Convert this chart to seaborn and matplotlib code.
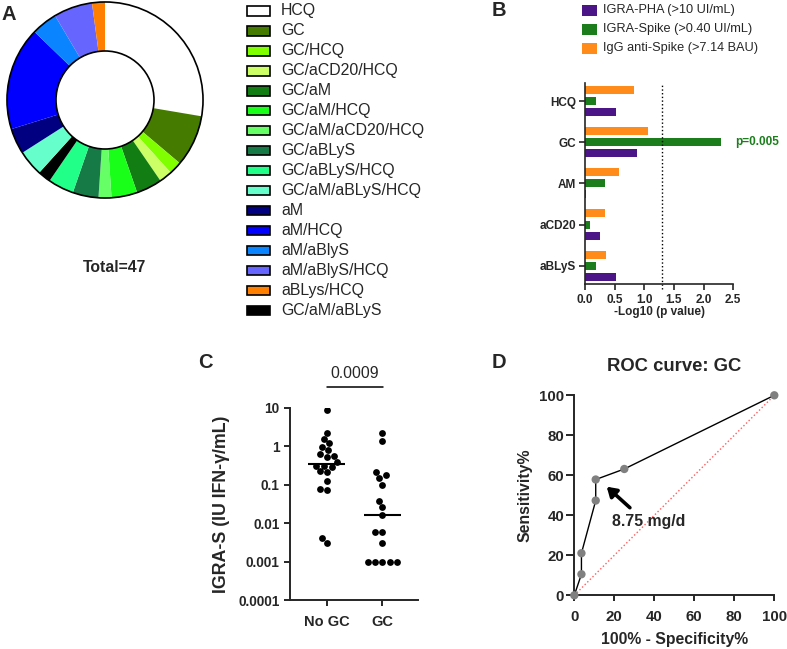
import numpy as np
import pandas as pd
import matplotlib
matplotlib.use("Agg")
import matplotlib.pyplot as plt
import seaborn as sns
from matplotlib.patches import Rectangle, Circle
from matplotlib.ticker import NullLocator

# ---------------- data ----------------
# Panel A
regimens = ['HCQ', 'GC', 'GC/HCQ', 'GC/aCD20/HCQ', 'GC/aM', 'GC/aM/HCQ',
            'GC/aM/aCD20/HCQ', 'GC/aBLyS', 'GC/aBLyS/HCQ', 'GC/aM/aBLyS/HCQ',
            'aM', 'aM/HCQ', 'aM/aBlyS', 'aM/aBlyS/HCQ', 'aBLys/HCQ', 'GC/aM/aBLyS']
regimen_colors = ['#FFFFFF', '#457C00', '#80FF00', '#CCFF66', '#127D12', '#1AFF1A',
                  '#66FF66', '#167A46', '#22FF88', '#66FFCC',
                  '#000080', '#0000FF', '#0A84FF', '#6666FF', '#FF8000', '#000000']
pie_order = ['HCQ', 'GC', 'GC/HCQ', 'GC/aCD20/HCQ', 'GC/aM', 'GC/aM/HCQ',
             'GC/aM/aCD20/HCQ', 'GC/aBLyS', 'GC/aBLyS/HCQ', 'GC/aM/aBLyS',
             'GC/aM/aBLyS/HCQ', 'aM', 'aM/HCQ', 'aM/aBlyS', 'aM/aBlyS/HCQ', 'aBLys/HCQ']
pie_counts = [13, 4, 1, 1, 2, 2, 1, 2, 2, 1, 2, 2, 8, 2, 3, 1]

# Panel B
drugs = ['HCQ', 'GC', 'AM', 'aCD20', 'aBLyS']
igra_pha = [0.52, 0.88, 0.02, 0.25, 0.52]
igra_spike = [0.18, 2.30, 0.33, 0.08, 0.18]
igg_spike = [0.83, 1.06, 0.57, 0.34, 0.36]
measures = ['IGRA-PHA (>10 UI/mL)', 'IGRA-Spike (>0.40 UI/mL)', 'IgG anti-Spike (>7.14 BAU)']
measure_colors = ['#4B1487', '#1B7D1B', '#FF8C1A']
p_threshold = 0.05

# Panel C
no_gc = [8.7, 2.15, 1.5, 1.18, 0.93, 0.79, 0.61, 0.55, 0.53, 0.38, 0.31, 0.31,
         0.29, 0.22, 0.215, 0.124, 0.075, 0.072, 0.004, 0.003]
gc = [2.15, 1.38, 0.21, 0.178, 0.145, 0.10, 0.037, 0.0255, 0.016, 0.0059, 0.0059,
      0.003, 0.001, 0.001, 0.001, 0.001, 0.001]
groups = ['No GC', 'GC']
c_ticks = [0.0001, 0.001, 0.01, 0.1, 1, 10]
c_ticklabels = ['0.0001', '0.001', '0.01', '0.1', '1', '10']

# Panel D
fpr = [0, 3.57, 3.57, 10.71, 10.71, 25.0, 100]
tpr = [0, 10.53, 21.05, 47.37, 57.89, 63.16, 100]
chance = [0, 100]

# ---------------- style ----------------
sns.set_style("ticks")
plt.rcParams['font.family'] = ['Liberation Sans', 'DejaVu Sans']
plt.rcParams['axes.linewidth'] = 1.4

W, H = 787, 649
fig = plt.figure(figsize=(W / 100, H / 100), dpi=100)


def add_ax(l, t, r, b):
    return fig.add_axes([l / W, 1 - b / H, (r - l) / W, (b - t) / H])


def bold_ticks(ax):
    for lbl in ax.get_xticklabels() + ax.get_yticklabels():
        lbl.set_fontweight('bold')


# ---------------- Panel A: donut ----------------
axA = add_ax(6, 1, 204, 199)
cmap = dict(zip(regimens, regimen_colors))
axA.pie(pie_counts, colors=[cmap[k] for k in pie_order], startangle=90,
        counterclock=False, wedgeprops=dict(width=0.5, linewidth=0))
axA.add_patch(Circle((0, 0), 1.0, fill=False, ec='black', lw=1.2))
axA.add_patch(Circle((0, 0), 0.5, fill=False, ec='black', lw=1.2))
axA.set_xlim(-1.01, 1.01)
axA.set_ylim(-1.01, 1.01)
axA.set_aspect('equal')
axA.axis('off')

# ---------------- Panel B: bars ----------------
axB = add_ax(585, 82.7, 733.3, 284)
dfB = pd.DataFrame({
    'drug': drugs * 3,
    'value': igra_pha + igra_spike + igg_spike,
    'measure': [measures[0]] * 5 + [measures[1]] * 5 + [measures[2]] * 5,
})
pal = dict(zip(measures, measure_colors))
sns.barplot(data=dfB, y='drug', x='value', hue='measure', order=drugs,
            hue_order=[measures[2], measures[1], measures[0]], palette=pal,
            orient='h', width=0.81, gap=0.28, errorbar=None, linewidth=0,
            saturation=1, legend=False, ax=axB)
axB.set_xlim(0, 2.5)
axB.set_ylim(4.445, -0.445)
axB.set_xticks([0, 0.5, 1.0, 1.5, 2.0, 2.5])
axB.set_xticklabels(['0.0', '0.5', '1.0', '1.5', '2.0', '2.5'])
axB.axvline(-np.log10(p_threshold), ymin=-0.025, ymax=1, color='black', ls=':',
            lw=1, clip_on=False)
axB.tick_params(axis='x', length=4, width=1.2, labelsize=8.5, pad=3.2)
axB.tick_params(axis='y', length=4, width=1.2, labelsize=8.5, pad=2.4)
axB.set_ylabel('')
axB.set_xlabel('-Log10 (p value)', fontsize=8.5, fontweight='bold')
axB.xaxis.set_label_coords(0.5, -0.107)
axB.xaxis.label.set_va('top')
for s in ['left', 'bottom']:
    axB.spines[s].set_linewidth(1.2)
sns.despine(ax=axB)
bold_ticks(axB)
axB.text(2.53, 1, 'p=0.005', color=measure_colors[1], fontsize=8.5,
         fontweight='bold', va='center', ha='left', clip_on=False)
axB.set_facecolor('none')

# ---------------- Panel C: dot plot ----------------
axC = add_ax(290, 407.7, 418, 600)
dfC = pd.DataFrame({'group': ['No GC'] * len(no_gc) + ['GC'] * len(gc),
                    'value': no_gc + gc})
axC.set_yscale('log')
sns.swarmplot(data=dfC, x='group', y='value', order=groups, color='black',
              size=4.9, log_scale=True, ax=axC)
for i, g in enumerate(groups):
    med = np.median(dfC.loc[dfC.group == g, 'value'])
    axC.hlines(med, i - 0.33, i + 0.33, color='black', lw=1.5, zorder=4)
axC.set_ylim(0.0001, 10)
axC.set_xlim(-0.66, 1.64)
axC.set_yticks(c_ticks)
axC.set_yticklabels(c_ticklabels)
axC.yaxis.set_minor_locator(NullLocator())
axC.tick_params(axis='y', length=4.5, width=1.4, labelsize=9.8, pad=3)
axC.tick_params(axis='x', length=4.5, width=1.4, labelsize=10.5, pad=6.3)
axC.set_xlabel('')
axC.set_ylabel('IGRA-S (IU IFN-γ/mL)', fontsize=12.8, fontweight='bold')
axC.yaxis.set_label_coords(-0.472, 0.498)
sns.despine(ax=axC)
bold_ticks(axC)
axC.plot([0, 1.02], [34.5, 34.5], color='black', lw=1.1, clip_on=False)
axC.text(0.5, 58, '0.0009', ha='center', va='baseline', fontsize=11.3, clip_on=False)
axC.set_facecolor('none')

# ---------------- Panel D: ROC ----------------
axD = add_ax(574.3, 395.3, 774.3, 595.3)
axD.plot(chance, chance, color='#FF5C5C', ls=':', lw=1)
sns.lineplot(x=fpr, y=tpr, sort=False, estimator=None, color='black', lw=1, ax=axD)
sns.scatterplot(x=fpr, y=tpr, color='#808080', s=36, edgecolor='none', zorder=4,
                clip_on=False, ax=axD)
axD.set_xlim(0, 100)
axD.set_ylim(0, 100)
axD.set_xticks(range(0, 101, 20))
axD.set_yticks(range(0, 101, 20))
axD.tick_params(axis='x', length=4.3, width=1.4, labelsize=10.8, pad=6.0)
axD.tick_params(axis='y', length=5.8, width=1.4, labelsize=10.8, pad=1.5)
axD.set_xlabel('100% - Specificity%', fontsize=11.3, fontweight='bold')
axD.xaxis.set_label_coords(0.5, -0.183)
axD.xaxis.label.set_va('top')
axD.set_ylabel('Sensitivity%', fontsize=11.4, fontweight='bold')
axD.yaxis.set_label_coords(-0.2085, 0.5)
axD.set_title('ROC curve: GC', fontsize=13.3, fontweight='bold', pad=17.5)
sns.despine(ax=axD)
bold_ticks(axD)
axD.annotate('', xy=(16.2, 54.3), xytext=(27.8, 43.8),
             arrowprops=dict(arrowstyle='-|>,head_length=0.55,head_width=0.35',
                             color='black', lw=2.6, shrinkA=0, shrinkB=0))
axD.text(18.7, 36.8, '8.75 mg/d', fontsize=11.4, fontweight='bold', va='center', ha='left')
axD.set_facecolor('none')

# ---------------- overlay: legends, panel letters ----------------
ov = fig.add_axes([0, 0, 1, 1], zorder=10)
ov.set_xlim(0, W)
ov.set_ylim(H, 0)
ov.axis('off')
ov.set_facecolor('none')

# legend A
for i, (name, col) in enumerate(zip(regimens, regimen_colors)):
    y = 11.0 + i * 19.95
    ov.add_patch(Rectangle((247, y - 4.7), 22.5, 9.4, facecolor=col,
                           edgecolor='black', lw=1.2))
    ov.text(281, y, name, fontsize=11.4, va='center', ha='left')

ov.text(115, 268, 'Total=47', fontsize=11.3, fontweight='bold', ha='center', va='center')

# legend B
for i, (name, col) in enumerate(zip(measures, measure_colors)):
    y = 10.5 + i * 18.8
    ov.add_patch(Rectangle((582, y - 5.6), 15, 11.2, facecolor=col, edgecolor='none'))
    ov.text(603, y, name, fontsize=9.2, va='center', ha='left')

for letter, x, y in [('A', 2, 5), ('B', 492, 1.5), ('C', 198, 353), ('D', 492, 353)]:
    ov.text(x, y, letter, fontsize=14.5, fontweight='bold', ha='left', va='top')

fig.savefig('out.png', dpi=100, facecolor='white')
